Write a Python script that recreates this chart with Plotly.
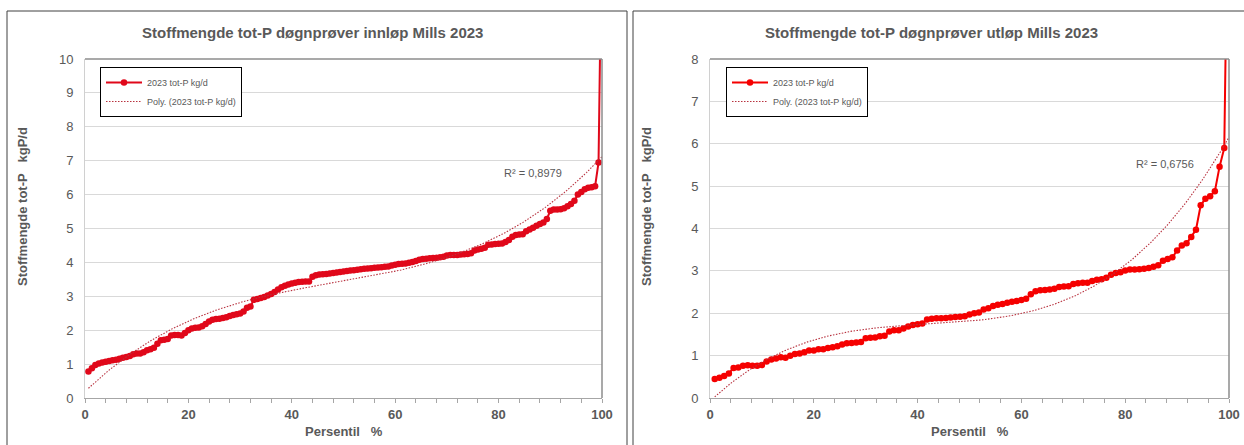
import numpy as np
import plotly.graph_objects as go

# Daily-sample load of total phosphorus (kgP/d), sorted ascending, inlet 2023
innlop_kg_d = [
    0.78, 0.88, 0.97, 1.02, 1.05, 1.07, 1.09, 1.11, 1.13, 1.16,
    1.19, 1.21, 1.24, 1.29, 1.31, 1.31, 1.35, 1.41, 1.44, 1.48,
    1.60, 1.70, 1.72, 1.74, 1.84, 1.86, 1.86, 1.84, 1.92, 2.00,
    2.05, 2.07, 2.08, 2.12, 2.18, 2.26, 2.31, 2.33, 2.34, 2.36,
    2.38, 2.42, 2.45, 2.47, 2.49, 2.55, 2.66, 2.70, 2.90, 2.92,
    2.95, 2.98, 3.02, 3.07, 3.13, 3.20, 3.27, 3.31, 3.35, 3.38,
    3.40, 3.42, 3.43, 3.44, 3.44, 3.58, 3.62, 3.64, 3.65, 3.66,
    3.67, 3.69, 3.70, 3.72, 3.73, 3.75, 3.76, 3.77, 3.78, 3.80,
    3.81, 3.82, 3.83, 3.84, 3.85, 3.86, 3.87, 3.88, 3.91, 3.93,
    3.95, 3.96, 3.97, 3.99, 4.01, 4.04, 4.08, 4.10, 4.11, 4.12,
    4.13, 4.14, 4.15, 4.17, 4.20, 4.22, 4.22, 4.22, 4.23, 4.24,
    4.25, 4.27, 4.35, 4.38, 4.40, 4.43, 4.52, 4.53, 4.54, 4.55,
    4.56, 4.60, 4.66, 4.76, 4.81, 4.82, 4.83, 4.92, 4.97, 5.02,
    5.08, 5.13, 5.18, 5.28, 5.52, 5.56, 5.56, 5.57, 5.60, 5.66,
    5.72, 5.82, 6.00, 6.08, 6.16, 6.20, 6.22, 6.25, 6.95, 14.5,
]

# Daily-sample load of total phosphorus (kgP/d), sorted ascending, outlet 2023
utlop_kg_d = [
    0.45, 0.48, 0.52, 0.58, 0.71, 0.72, 0.76, 0.77, 0.76, 0.76,
    0.78, 0.86, 0.91, 0.93, 0.96, 0.95, 1.00, 1.04, 1.05, 1.08,
    1.12, 1.12, 1.15, 1.15, 1.18, 1.20, 1.22, 1.26, 1.29, 1.30,
    1.31, 1.32, 1.41, 1.42, 1.43, 1.46, 1.47, 1.57, 1.60, 1.60,
    1.64, 1.69, 1.72, 1.74, 1.76, 1.85, 1.87, 1.88, 1.88, 1.89,
    1.90, 1.91, 1.92, 1.93, 1.97, 2.00, 2.02, 2.09, 2.12, 2.17,
    2.20, 2.22, 2.25, 2.27, 2.29, 2.31, 2.34, 2.45, 2.52, 2.54,
    2.55, 2.56, 2.58, 2.62, 2.63, 2.64, 2.69, 2.71, 2.72, 2.72,
    2.76, 2.79, 2.80, 2.84, 2.91, 2.95, 2.97, 3.01, 3.03, 3.03,
    3.04, 3.05, 3.07, 3.10, 3.13, 3.24, 3.28, 3.32, 3.48, 3.60,
    3.65, 3.80, 3.97, 4.55, 4.70, 4.76, 4.88, 5.46, 5.90, 14.0,
]

titles = [
    "Stoffmengde tot-P døgnprøver innløp Mills 2023",
    "Stoffmengde tot-P døgnprøver utløp Mills 2023",
]
r2_labels = ["R² = 0,8979", "R² = 0,6756"]
y_max = [10, 8]
x_ticks = [0, 20, 40, 60, 80, 100]
series_name = "2023 tot-P kg/d"
trend_name = "Poly. (2023 tot-P kg/d)"
x_title = "Persentil\u00a0\u00a0\u00a0%"
y_title = "Stoffmengde tot-P\u00a0\u00a0\u00a0kgP/d"

W, H = 1244, 445
FONT = "Liberation Sans, Arial, sans-serif"
GREY = "#595959"
line_colors = ["#e0081a", "#f50000"]
trend_color = "#b8323f"


def px(v):
    return v / W


def py(v):
    return 1 - v / H


# plot-area pixel boxes (left, right, top, bottom)
boxes = [(85, 602, 59, 398), (710, 1229, 59, 398)]

fig = go.Figure()
datasets = [innlop_kg_d, utlop_kg_d]

for k, values in enumerate(datasets):
    n = len(values)
    persentil = [100.0 * (i + 1) / n for i in range(n)]
    xa = "x" if k == 0 else "x2"
    ya = "y" if k == 0 else "y2"
    leg = "legend" if k == 0 else "legend2"

    fig.add_trace(go.Scatter(
        x=persentil, y=values, mode="lines+markers", name=series_name,
        line=dict(color=line_colors[k], width=2),
        marker=dict(color=line_colors[k], size=6.5),
        xaxis=xa, yaxis=ya, legend=leg, legendgroup=f"d{k}",
    ))

    # third-order polynomial trendline fitted to the sorted sample
    coeffs = np.polyfit(persentil, values, 3)
    xs = np.linspace(persentil[0], 100, 300)
    fig.add_trace(go.Scatter(
        x=xs, y=np.polyval(coeffs, xs), mode="lines", name=trend_name,
        line=dict(color=trend_color, width=1.1, dash="1.5px,1.5px"),
        xaxis=xa, yaxis=ya, legend=leg, legendgroup=f"t{k}",
    ))

layout = dict(
    width=W, height=H, margin=dict(l=0, r=0, t=0, b=0),
    paper_bgcolor="white", plot_bgcolor="white",
    font=dict(family=FONT, color=GREY),
    showlegend=True,
)

annotations = []
shapes = []
for k, (l, r, t, b) in enumerate(boxes):
    sfx = "" if k == 0 else "2"
    xdom = [px(l), px(r)]
    ydom = [py(b), py(t)]
    layout[f"xaxis{sfx}"] = dict(
        domain=xdom, range=[0, 100],
        tickvals=x_ticks, ticktext=[f"<b>{v}</b>" for v in x_ticks],
        anchor=f"y{sfx}", showgrid=False, zeroline=False,
        showline=True, linecolor="#a6a6a6", linewidth=1,
        ticks="outside", ticklen=4, tickcolor="#a6a6a6",
        minor=dict(dtick=4, tick0=0, ticks="outside", ticklen=4, tickcolor="#a6a6a6"),
        tickfont=dict(size=13, color=GREY),
        automargin=False,
    )
    layout[f"yaxis{sfx}"] = dict(
        domain=ydom, range=[0, y_max[k]], dtick=1,
        anchor=f"x{sfx}", showgrid=True, gridcolor="#d9d9d9", gridwidth=1,
        zeroline=False, showline=True, linecolor="#d0d0d0", linewidth=1,
        ticks="", ticklabelstandoff=8,
        tickfont=dict(size=13, color=GREY),
        automargin=False,
    )

    # top and right edges of the plot area
    shapes.append(dict(type="line", xref=f"x{sfx} domain", yref=f"y{sfx} domain",
                       x0=0, x1=1, y0=1, y1=1, line=dict(color="#8c8c8c", width=1.5)))
    shapes.append(dict(type="line", xref=f"x{sfx} domain", yref=f"y{sfx} domain",
                       x0=1, x1=1, y0=0, y1=1, line=dict(color="#8c8c8c", width=1.5)))

    # chart titles, axis titles and R² labels
    cx = [312.5, 931][k]
    annotations.append(dict(text=titles[k], x=px(cx), y=py(32), xref="paper", yref="paper",
                            showarrow=False, xanchor="center", yanchor="middle",
                            font=dict(size=15, color=GREY, weight="bold")))
    annotations.append(dict(text=x_title, x=px([344, 970][k]), y=py(431), xref="paper", yref="paper",
                            showarrow=False, xanchor="center", yanchor="middle",
                            font=dict(size=13, color=GREY, weight="bold")))
    annotations.append(dict(text=y_title, x=px([22, 646][k]), y=py(207), xref="paper", yref="paper",
                            showarrow=False, xanchor="center", yanchor="middle", textangle=-90,
                            font=dict(size=13, color=GREY, weight="bold")))
    annotations.append(dict(text=r2_labels[k], x=[86.7, 87.7][k], y=[6.64, 5.52][k],
                            xref=f"x{sfx}", yref=f"y{sfx}", showarrow=False,
                            font=dict(size=11, color=GREY)))

# outer frames of the two charts
shapes.append(dict(type="rect", xref="paper", yref="paper",
                   x0=px(7), x1=px(627), y0=py(447), y1=py(11),
                   line=dict(color="#404040", width=1)))
shapes.append(dict(type="rect", xref="paper", yref="paper",
                   x0=px(633), x1=px(1250), y0=py(447), y1=py(11),
                   line=dict(color="#404040", width=1)))

legend_style = dict(
    xanchor="left", yanchor="top", y=py(67),
    bgcolor="white", bordercolor="#000000", borderwidth=1,
    font=dict(size=9, color=GREY, family=FONT),
    traceorder="grouped", tracegroupgap=0, itemwidth=36,
)
layout["legend"] = dict(legend_style, x=px(100))
layout["legend2"] = dict(legend_style, x=px(726))
layout["annotations"] = annotations
layout["shapes"] = shapes

fig.update_layout(**layout)
fig.write_html("out.html")
